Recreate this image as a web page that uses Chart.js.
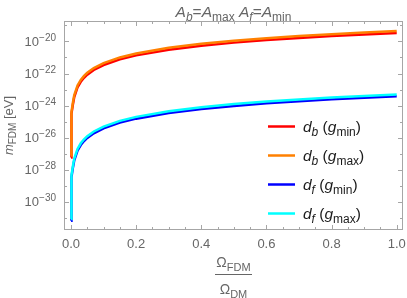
<!DOCTYPE html>
<html>
<head>
<meta charset="utf-8">
<script src="https://cdn.jsdelivr.net/npm/chart.js@4.4.0/dist/chart.umd.min.js"></script>
<style>
html, body { margin: 0; padding: 0; background: #fff; }
</style>
</head>
<body>
<canvas id="chart" width="407" height="298"></canvas>
<script>
// Omega_FDM / Omega_DM
const omegaRatio = [0.00013, 0.0003, 0.001, 0.003, 0.006, 0.01, 0.02, 0.03, 0.04, 0.05, 0.07,
	0.1, 0.15, 0.2, 0.3, 0.4, 0.5, 0.6, 0.7, 0.8, 0.9, 1.0];

// m_FDM [eV]
const dbGmin = [5.73e-28, 3.05e-27, 3.39e-26, 3.05e-25, 1.22e-24, 3.39e-24, 1.36e-23, 3.05e-23, 5.42e-23, 8.48e-23, 1.66e-22,
	3.39e-22, 7.63e-22, 1.36e-21, 3.05e-21, 5.42e-21, 8.48e-21, 1.22e-20, 1.66e-20, 2.17e-20, 2.75e-20, 3.39e-20];
const dbGmax = [7.55e-28, 4.02e-27, 4.47e-26, 4.02e-25, 1.61e-24, 4.47e-24, 1.79e-23, 4.02e-23, 7.15e-23, 1.12e-22, 2.19e-22,
	4.47e-22, 1.01e-21, 1.79e-21, 4.02e-21, 7.15e-21, 1.12e-20, 1.61e-20, 2.19e-20, 2.86e-20, 3.62e-20, 4.47e-20];
const dfGmin = [6.42e-32, 3.42e-31, 3.80e-30, 3.42e-29, 1.37e-28, 3.80e-28, 1.52e-27, 3.42e-27, 6.08e-27, 9.50e-27, 1.86e-26,
	3.80e-26, 8.55e-26, 1.52e-25, 3.42e-25, 6.08e-25, 9.50e-25, 1.37e-24, 1.86e-24, 2.43e-24, 3.08e-24, 3.80e-24];
const dfGmax = [8.28e-32, 4.41e-31, 4.90e-30, 4.41e-29, 1.76e-28, 4.90e-28, 1.96e-27, 4.41e-27, 7.84e-27, 1.23e-26, 2.40e-26,
	4.90e-26, 1.10e-25, 1.96e-25, 4.41e-25, 7.84e-25, 1.23e-24, 1.76e-24, 2.40e-24, 3.14e-24, 3.97e-24, 4.90e-24];

const xTickLabels = ['0.0', '0.2', '0.4', '0.6', '0.8', '1.0'];
const xTickValues = [0, 0.2, 0.4, 0.6, 0.8, 1.0];
const yTickExponents = [-30, -28, -26, -24, -22, -20];

const seriesColors = ['#ff0000', '#ff8000', '#0000ff', '#00ffff'];
// legend text pieces: [text, kind]  i = italic, s = subscript, si = italic subscript
const seriesLabels = [
	[['d', 'i'], ['b', 'si'], [' (', 'n'], ['g', 'i'], ['min', 's'], [')', 'n']],
	[['d', 'i'], ['b', 'si'], [' (', 'n'], ['g', 'i'], ['max', 's'], [')', 'n']],
	[['d', 'i'], ['f', 'si'], [' (', 'n'], ['g', 'i'], ['min', 's'], [')', 'n']],
	[['d', 'i'], ['f', 'si'], [' (', 'n'], ['g', 'i'], ['max', 's'], [')', 'n']],
];

const FONT = '"Liberation Sans", Arial, sans-serif';

function drawRich(ctx, parts, x, y, align, size, color, subRatio = 0.75) {
	const sub = Math.round(size * subRatio);
	const fontOf = (k) => {
		if (k === 'i') return `italic ${size}px ${FONT}`;
		if (k === 's') return `${sub}px ${FONT}`;
		if (k === 'si') return `italic ${sub}px ${FONT}`;
		if (k === 'sup') return `${sub}px ${FONT}`;
		return `${size}px ${FONT}`;
	};
	const offOf = (k) => (k === 's' || k === 'si' ? size * 0.28 : k === 'sup' ? -size * 0.42 : 0);
	let w = 0;
	parts.forEach(([t, k]) => {
		ctx.font = fontOf(k);
		w += ctx.measureText(t).width;
	});
	let cx = align === 'center' ? x - w / 2 : align === 'right' ? x - w : x;
	ctx.fillStyle = color;
	ctx.textAlign = 'left';
	ctx.textBaseline = 'alphabetic';
	parts.forEach(([t, k]) => {
		ctx.font = fontOf(k);
		ctx.fillText(t, cx, y + offOf(k));
		cx += ctx.measureText(t).width;
	});
	return w;
}

const framePlugin = {
	id: 'frame',
	afterDraw(chart) {
		const { ctx, chartArea: a, scales } = chart;
		const xs = scales.x;
		const ys = scales.y;
		ctx.save();

		// frame
		ctx.strokeStyle = '#a6a6a6';
		ctx.lineWidth = 1;
		ctx.strokeRect(a.left + 0.5, a.top + 0.5, a.right - a.left - 1, a.bottom - a.top - 1);

		// x ticks (inward, both sides)
		ctx.beginPath();
		for (let i = 0; i <= 20; i++) {
			const v = i * 0.05;
			const px = Math.round(xs.getPixelForValue(v)) + 0.5;
			const len = i % 4 === 0 ? 5 : 3;
			ctx.moveTo(px, a.bottom);
			ctx.lineTo(px, a.bottom - len);
			ctx.moveTo(px, a.top);
			ctx.lineTo(px, a.top + len);
		}
		// y ticks
		for (let e = -31; e <= -19; e++) {
			const py = Math.round(ys.getPixelForValue(Math.pow(10, e))) + 0.5;
			if (py < a.top || py > a.bottom) continue;
			const len = e % 2 === 0 ? 5 : 3;
			ctx.moveTo(a.left, py);
			ctx.lineTo(a.left + len, py);
			ctx.moveTo(a.right, py);
			ctx.lineTo(a.right - len, py);
		}
		ctx.stroke();

		// x tick labels
		ctx.fillStyle = '#666';
		ctx.font = `13px ${FONT}`;
		ctx.textAlign = 'center';
		ctx.textBaseline = 'alphabetic';
		xTickValues.forEach((v, i) => {
			ctx.fillText(xTickLabels[i], xs.getPixelForValue(v), a.bottom + 18);
		});

		// y tick labels 10^e
		yTickExponents.forEach((e) => {
			const py = ys.getPixelForValue(Math.pow(10, e));
			drawRich(ctx, [['10', 'n'], ['\u2212' + Math.abs(e), 'sup']], 56, py + 4.5, 'right', 13, '#666');
		});

		// title
		drawRich(ctx, [['A', 'i'], ['b', 'si'], ['=', 'n'], ['A', 'i'], ['max', 's'], [' ', 'n'],
			['A', 'i'], ['f', 'si'], ['=', 'n'], ['A', 'i'], ['min', 's']],
			(a.left + a.right) / 2, 16.5, 'center', 15.5, '#666', 0.8);

		// y axis title
		ctx.save();
		ctx.translate(12.5, (a.top + a.bottom) / 2);
		ctx.rotate(-Math.PI / 2);
		drawRich(ctx, [['m', 'i'], ['FDM', 's'], [' [eV]', 'n']], 0, 0, 'center', 13, '#666', 0.8);
		ctx.restore();

		// x axis title: fraction
		const cxm = (a.left + a.right) / 2;
		drawRich(ctx, [['\u03A9', 'n'], ['FDM', 's']], cxm, 267, 'center', 14, '#666', 0.8);
		ctx.strokeStyle = '#666';
		ctx.beginPath();
		ctx.moveTo(215, 274.5);
		ctx.lineTo(252, 274.5);
		ctx.stroke();
		drawRich(ctx, [['\u03A9', 'n'], ['DM', 's']], cxm, 294, 'center', 14, '#666', 0.8);

		// legend
		seriesLabels.forEach((parts, i) => {
			const ly = 126.5 + i * 29;
			ctx.strokeStyle = seriesColors[i];
			ctx.lineWidth = 2.5;
			ctx.beginPath();
			ctx.moveTo(268, ly);
			ctx.lineTo(295, ly);
			ctx.stroke();
			drawRich(ctx, parts, 303, ly + 5, 'left', 15.5, '#1a1a1a', 0.8);
		});

		ctx.restore();
	},
};

const toPoints = (ys) => ys.map((y, i) => ({ x: omegaRatio[i], y }));

const ctx = document.getElementById('chart').getContext('2d');
new Chart(ctx, {
	type: 'line',
	data: {
		datasets: [
			{ label: 'd_b (g_min)', data: toPoints(dbGmin), borderColor: seriesColors[0], order: 2 },
			{ label: 'd_b (g_max)', data: toPoints(dbGmax), borderColor: seriesColors[1], order: 1 },
			{ label: 'd_f (g_min)', data: toPoints(dfGmin), borderColor: seriesColors[2], order: 2 },
			{ label: 'd_f (g_max)', data: toPoints(dfGmax), borderColor: seriesColors[3], order: 1 },
		],
	},
	options: {
		responsive: false,
		animation: false,
		layout: { padding: { left: 64, right: 4, top: 21, bottom: 68 } },
		elements: {
			point: { radius: 0 },
			line: { borderWidth: 2.5, tension: 0, fill: false },
		},
		plugins: {
			legend: { display: false },
			tooltip: { enabled: false },
		},
		scales: {
			x: { type: 'linear', min: -0.0215, max: 1.0193, display: false },
			y: { type: 'logarithmic', min: 1.7e-32, max: 1.9e-19, display: false },
		},
	},
	plugins: [framePlugin],
});
</script>
</body>
</html>
